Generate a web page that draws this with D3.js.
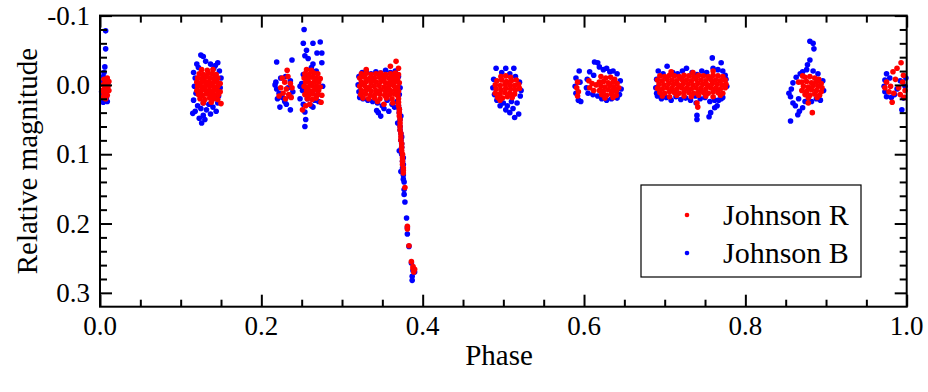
<!DOCTYPE html>
<html>
<head>
<meta charset="utf-8">
<script src="https://cdn.jsdelivr.net/npm/d3@7"></script>
</head>
<body style="margin:0">
<svg width="928" height="392"></svg>
<script>
// tick labels
var xMajor = [0.0, 0.2, 0.4, 0.6, 0.8, 1.0];
var xMinor = [0.05, 0.1, 0.15, 0.25, 0.3, 0.35, 0.45, 0.5, 0.55, 0.65, 0.7, 0.75, 0.85, 0.9, 0.95];
var yMajor = [-0.1, 0.0, 0.1, 0.2, 0.3];
var yMinor = [-0.08, -0.06, -0.04, -0.02, 0.02, 0.04, 0.06, 0.08, 0.12, 0.14, 0.16, 0.18,
              0.22, 0.24, 0.26, 0.28];

var seriesNames = ["Johnson R", "Johnson B"];

// Johnson B : [phase, relative magnitude]
var johnsonB = [
  // ~0.00
  [0.007,-0.078],[0.007,-0.052],[0.006,-0.026],[0.005,-0.018],[0.004,-0.012],[0.008,-0.008],[0.003,-0.004],
  [0.006,0.000],[0.009,0.004],[0.004,0.008],[0.007,0.012],[0.003,0.016],[0.008,0.018],[0.005,0.021],
  [0.009,0.024],[0.004,0.025],[0.010,-0.003],[0.002,0.010],
  // ~0.13
  [0.125,-0.043],[0.128,-0.041],[0.146,-0.032],[0.143,-0.028],[0.120,-0.030],[0.131,-0.034],[0.116,-0.018],
  [0.118,-0.010],[0.117,0.002],[0.119,0.012],[0.116,0.022],[0.148,-0.020],[0.150,-0.010],[0.149,0.004],
  [0.147,0.016],[0.146,0.026],[0.122,-0.025],[0.137,-0.030],[0.141,-0.024],[0.121,0.030],[0.125,0.034],
  [0.118,0.038],[0.132,0.036],[0.140,0.032],[0.144,0.038],[0.128,0.044],[0.123,0.048],[0.126,0.055],
  [0.130,0.050],[0.115,0.041],[0.137,0.042],[0.135,0.028],[0.128,0.026],
  // ~0.23
  [0.219,-0.033],[0.238,-0.036],[0.224,-0.010],[0.218,-0.004],[0.230,-0.012],[0.236,-0.006],[0.219,0.006],
  [0.222,0.012],[0.233,0.004],[0.239,0.010],[0.226,0.018],[0.220,0.020],[0.235,0.016],[0.229,0.024],
  [0.223,0.032],[0.236,0.036],[0.231,0.028],[0.217,0.000],
  // ~0.26
  [0.253,-0.080],[0.252,-0.060],[0.256,-0.050],[0.264,-0.060],[0.269,-0.046],[0.273,-0.062],[0.275,-0.046],
  [0.275,-0.032],[0.258,-0.038],[0.254,-0.042],[0.262,-0.025],[0.268,-0.020],[0.252,-0.015],[0.256,-0.010],
  [0.270,-0.008],[0.264,-0.030],[0.250,-0.002],[0.276,0.002],[0.251,0.008],[0.260,0.012],[0.270,0.014],
  [0.257,0.020],[0.266,0.022],[0.252,0.028],[0.262,0.030],[0.271,0.024],[0.254,0.039],[0.255,0.050],
  [0.254,0.060],[0.264,0.032],[0.248,0.020],[0.248,0.002],
  // ~0.35 flat part
  [0.325,-0.018],[0.330,-0.020],[0.336,-0.016],[0.342,-0.019],[0.348,-0.017],[0.354,-0.021],[0.360,-0.018],
  [0.366,-0.020],[0.370,-0.012],[0.321,-0.012],[0.320,0.000],[0.321,0.010],[0.322,0.018],[0.372,0.004],
  [0.371,0.014],[0.326,0.020],[0.332,0.022],[0.338,0.024],[0.344,0.026],[0.350,0.030],[0.356,0.022],
  [0.362,0.028],[0.368,0.024],[0.345,0.040],[0.348,0.045],[0.343,0.037],[0.352,0.034],[0.358,0.038],
  [0.365,0.032],
  // descent
  [0.370,0.030],[0.371,0.040],[0.372,0.050],[0.372,0.060],[0.373,0.070],[0.373,0.080],[0.374,0.090],
  [0.374,0.100],[0.375,0.110],[0.375,0.120],[0.376,0.130],[0.376,0.136],[0.371,0.035],[0.372,0.065],
  [0.374,0.085],[0.376,0.115],[0.377,0.151],[0.377,0.158],[0.378,0.169],[0.380,0.192],[0.381,0.206],
  [0.381,0.215],[0.383,0.233],[0.386,0.257],[0.388,0.268],[0.390,0.270],[0.387,0.282],[0.387,0.276],
  [0.373,0.045],[0.369,0.055],[0.374,0.075],[0.371,0.095],[0.376,0.105],[0.373,0.125],[0.377,0.140],
  // ~0.50
  [0.491,-0.024],[0.503,-0.024],[0.498,-0.018],[0.508,-0.016],[0.515,-0.012],[0.488,-0.008],[0.520,-0.004],
  [0.487,0.004],[0.522,0.008],[0.489,0.014],[0.521,0.016],[0.492,0.022],[0.500,0.026],[0.510,0.024],
  [0.517,0.026],[0.505,0.030],[0.512,0.034],[0.508,0.040],[0.514,0.047],[0.519,0.042],[0.496,0.030],
  [0.503,0.036],[0.513,-0.024],
  // ~0.62
  [0.594,-0.020],[0.590,-0.010],[0.589,0.002],[0.590,0.012],[0.593,0.022],[0.596,0.024],[0.595,-0.004],
  [0.613,-0.033],[0.617,-0.032],[0.607,-0.019],[0.624,-0.022],[0.632,-0.019],[0.641,-0.016],[0.619,-0.026],
  [0.628,-0.024],[0.636,-0.020],[0.604,-0.008],[0.603,0.004],[0.605,0.012],[0.612,-0.014],[0.645,-0.006],
  [0.646,0.006],[0.644,0.014],[0.628,0.022],[0.641,0.019],[0.617,0.016],[0.622,0.020],[0.634,0.020],
  [0.611,0.014],
  // ~0.73
  [0.692,-0.020],[0.698,-0.016],[0.703,-0.027],[0.710,-0.018],[0.716,-0.016],[0.722,-0.020],[0.727,-0.024],
  [0.734,-0.018],[0.740,-0.015],[0.746,-0.020],[0.752,-0.018],[0.759,-0.039],[0.760,-0.024],[0.766,-0.022],
  [0.770,-0.032],[0.772,-0.020],[0.775,-0.014],[0.690,-0.008],[0.689,0.004],[0.690,0.012],
  [0.691,0.016],[0.696,0.020],[0.702,0.018],[0.708,0.022],[0.714,0.017],[0.720,0.021],[0.726,0.019],
  [0.732,0.022],[0.738,0.016],[0.744,0.020],[0.750,0.018],[0.756,0.024],[0.762,0.022],[0.770,0.020],
  [0.740,0.050],[0.740,0.044],[0.739,0.026],[0.755,0.046],[0.757,0.040],[0.762,0.033],[0.765,0.030],
  [0.767,0.022],[0.772,0.018],[0.777,0.002],[0.776,-0.008],
  // ~0.88
  [0.880,-0.063],[0.884,-0.060],[0.885,-0.052],[0.880,-0.036],[0.877,-0.029],[0.871,-0.019],[0.863,-0.011],
  [0.859,-0.003],[0.857,0.006],[0.856,0.017],[0.859,0.026],[0.865,0.043],[0.867,0.038],[0.856,0.052],
  [0.871,0.033],[0.893,0.022],[0.888,0.020],[0.896,-0.006],[0.897,0.008],[0.884,-0.020],[0.890,-0.016],
  [0.866,0.020],[0.862,0.030],[0.874,0.024],[0.882,0.024],[0.868,-0.016],[0.876,-0.022],[0.854,0.012],
  // ~0.99
  [0.975,-0.016],[0.973,-0.007],[0.972,0.002],[0.973,0.010],[0.975,0.017],[0.981,0.018],[0.985,0.014],
  [0.994,0.036],[0.996,0.019],[0.992,-0.006],[0.998,0.002],[0.999,-0.010],[0.988,0.006],[0.979,-0.010]
];

// Johnson R : [phase, relative magnitude]
var johnsonR = [
  // ~0.00
  [0.005,-0.008],[0.009,-0.010],[0.007,-0.004],[0.004,0.000],[0.010,0.002],[0.006,0.005],[0.003,0.008],
  [0.008,0.010],[0.005,0.013],[0.009,0.015],[0.004,0.018],[0.007,0.020],[0.011,-0.005],[0.011,0.008],
  // ~0.13
  [0.126,-0.022],[0.133,-0.021],[0.140,-0.022],
  [0.123,-0.016],[0.128,-0.015],[0.134,-0.017],[0.139,-0.016],[0.144,-0.015],
  [0.121,-0.010],[0.126,-0.009],[0.131,-0.011],[0.136,-0.010],[0.141,-0.009],[0.146,-0.010],
  [0.120,-0.004],[0.125,-0.003],[0.130,-0.005],[0.135,-0.004],[0.140,-0.003],[0.145,-0.004],[0.149,-0.002],
  [0.121,0.002],[0.126,0.003],[0.131,0.001],[0.136,0.002],[0.141,0.003],[0.146,0.002],
  [0.120,0.008],[0.125,0.009],[0.130,0.007],[0.135,0.008],[0.140,0.009],[0.145,0.008],[0.149,0.010],
  [0.122,0.014],[0.127,0.015],[0.132,0.013],[0.137,0.014],[0.142,0.015],[0.147,0.014],
  [0.124,0.020],[0.130,0.021],[0.136,0.019],[0.141,0.020],[0.146,0.021],
  [0.128,0.026],[0.138,0.025],[0.150,0.027],
  // ~0.23
  [0.226,-0.010],[0.233,-0.012],[0.229,-0.004],[0.236,-0.002],[0.224,0.004],[0.231,0.006],[0.238,0.004],
  [0.227,0.012],[0.234,0.014],[0.222,0.016],[0.230,0.020],[0.237,0.018],[0.232,-0.021],
  // ~0.26
  [0.256,-0.022],[0.262,-0.021],
  [0.254,-0.016],[0.259,-0.015],[0.265,-0.017],[0.270,-0.016],
  [0.253,-0.010],[0.258,-0.009],[0.263,-0.011],[0.268,-0.010],[0.273,-0.009],
  [0.255,-0.004],[0.260,-0.003],[0.266,-0.005],[0.271,-0.004],
  [0.253,0.002],[0.258,0.003],[0.263,0.001],[0.268,0.002],[0.273,0.003],
  [0.256,0.008],[0.261,0.009],[0.266,0.007],[0.271,0.008],
  [0.254,0.014],[0.259,0.015],[0.264,0.013],[0.270,0.014],[0.275,0.015],
  [0.257,0.020],[0.263,0.021],[0.268,0.019],
  [0.274,0.025],[0.255,0.030],[0.260,0.028],[0.251,0.036],
  // ~0.35 flat part
  [0.324,-0.016],[0.330,-0.017],[0.336,-0.015],[0.342,-0.016],[0.348,-0.017],[0.354,-0.015],[0.360,-0.016],[0.366,-0.017],[0.370,-0.015],
  [0.322,-0.010],[0.328,-0.011],[0.334,-0.009],[0.340,-0.010],[0.346,-0.011],[0.352,-0.009],[0.358,-0.010],[0.364,-0.011],[0.369,-0.009],
  [0.324,-0.004],[0.330,-0.005],[0.336,-0.003],[0.342,-0.004],[0.348,-0.005],[0.354,-0.003],[0.360,-0.004],[0.366,-0.005],[0.371,-0.003],
  [0.322,0.002],[0.328,0.001],[0.334,0.003],[0.340,0.002],[0.346,0.001],[0.352,0.003],[0.358,0.002],[0.364,0.001],[0.369,0.003],
  [0.324,0.008],[0.330,0.007],[0.336,0.009],[0.342,0.008],[0.348,0.007],[0.354,0.009],[0.360,0.008],[0.366,0.007],[0.370,0.009],
  [0.323,0.014],[0.329,0.013],[0.335,0.015],[0.341,0.014],[0.347,0.013],[0.353,0.015],[0.359,0.014],[0.365,0.013],[0.369,0.015],
  [0.326,0.019],[0.333,0.020],[0.340,0.019],[0.347,0.020],[0.355,0.019],[0.362,0.020],
  [0.327,-0.013],[0.339,-0.007],[0.351,-0.012],[0.363,-0.007],[0.333,0.005],[0.345,0.011],[0.357,0.005],
  [0.367,-0.034],[0.360,-0.027],[0.330,-0.022],[0.344,0.024],[0.352,0.028],[0.363,0.026],[0.370,-0.024],
  // descent
  [0.369,0.010],[0.370,0.020],[0.370,0.030],[0.371,0.040],[0.372,0.050],[0.372,0.060],[0.373,0.070],
  [0.373,0.080],[0.374,0.090],[0.375,0.100],[0.375,0.110],[0.376,0.120],[0.376,0.127],[0.378,0.148],
  [0.369,0.015],[0.370,0.025],[0.371,0.035],[0.371,0.045],[0.372,0.055],[0.372,0.065],[0.373,0.075],
  [0.374,0.085],[0.374,0.095],[0.375,0.105],[0.375,0.115],[0.376,0.123],
  [0.381,0.204],[0.381,0.208],[0.383,0.232],[0.386,0.255],[0.388,0.265],[0.390,0.266],[0.389,0.270],
  [0.388,0.262],
  // ~0.50
  [0.497,-0.012],[0.503,-0.013],[0.509,-0.011],
  [0.492,-0.006],[0.498,-0.007],[0.504,-0.005],[0.510,-0.006],[0.516,-0.007],
  [0.490,0.000],[0.496,0.001],[0.502,-0.001],[0.508,0.000],[0.514,0.001],[0.519,-0.001],
  [0.491,0.006],[0.497,0.007],[0.503,0.005],[0.509,0.006],[0.515,0.007],[0.520,0.005],
  [0.490,0.012],[0.496,0.013],[0.502,0.011],[0.508,0.012],[0.514,0.013],
  [0.493,0.018],[0.499,0.019],[0.505,0.017],[0.511,0.018],[0.496,0.022],
  // ~0.62
  [0.592,-0.004],[0.591,0.004],[0.593,0.010],[0.592,0.016],
  [0.606,-0.006],[0.610,-0.002],[0.607,0.004],[0.612,0.008],[0.615,0.000],
  [0.621,-0.012],[0.627,-0.010],[0.633,-0.011],[0.638,-0.008],
  [0.619,-0.004],[0.624,-0.005],[0.630,-0.003],[0.636,-0.004],[0.641,-0.002],
  [0.621,0.002],[0.626,0.003],[0.632,0.001],[0.637,0.003],[0.643,0.004],
  [0.619,0.008],[0.624,0.009],[0.630,0.007],[0.635,0.008],[0.640,0.009],
  [0.622,0.014],[0.628,0.015],[0.634,0.013],[0.640,0.015],
  [0.626,0.019],[0.636,0.018],
  // ~0.73
  [0.694,-0.013],[0.700,-0.012],[0.706,-0.014],[0.712,-0.013],[0.718,-0.012],[0.724,-0.014],[0.730,-0.013],
  [0.736,-0.012],[0.742,-0.014],[0.748,-0.013],[0.754,-0.012],[0.760,-0.014],[0.766,-0.013],[0.772,-0.012],
  [0.691,-0.007],[0.697,-0.006],[0.703,-0.008],[0.709,-0.007],[0.715,-0.006],[0.721,-0.008],[0.727,-0.007],
  [0.733,-0.006],[0.739,-0.008],[0.745,-0.007],[0.751,-0.006],[0.757,-0.008],[0.763,-0.007],[0.769,-0.006],[0.775,-0.007],
  [0.693,-0.001],[0.699,0.000],[0.705,-0.002],[0.711,-0.001],[0.717,0.000],[0.723,-0.002],[0.729,-0.001],
  [0.735,0.000],[0.741,-0.002],[0.747,-0.001],[0.753,0.000],[0.759,-0.002],[0.765,-0.001],[0.771,0.000],[0.776,-0.001],
  [0.691,0.005],[0.697,0.006],[0.703,0.004],[0.709,0.005],[0.715,0.006],[0.721,0.004],[0.727,0.005],
  [0.733,0.006],[0.739,0.004],[0.745,0.005],[0.751,0.006],[0.757,0.004],[0.763,0.005],[0.769,0.006],[0.775,0.004],
  [0.694,0.011],[0.700,0.012],[0.706,0.010],[0.712,0.011],[0.718,0.012],[0.724,0.010],[0.730,0.011],
  [0.736,0.012],[0.742,0.010],[0.748,0.011],[0.754,0.012],[0.760,0.010],[0.766,0.011],[0.772,0.012],
  [0.697,0.016],[0.706,0.017],[0.715,0.015],[0.724,0.016],[0.733,0.017],[0.742,0.015],[0.751,0.016],
  [0.760,0.017],[0.769,0.015],
  [0.740,0.026],[0.741,0.032],[0.708,-0.019],[0.735,-0.018],[0.760,-0.020],
  // ~0.88
  [0.874,-0.011],[0.880,-0.012],[0.886,-0.010],[0.891,-0.008],
  [0.870,-0.004],[0.876,-0.005],[0.882,-0.003],[0.888,-0.004],[0.894,-0.002],
  [0.872,0.002],[0.878,0.003],[0.884,0.001],[0.890,0.002],[0.895,0.004],
  [0.870,0.008],[0.876,0.009],[0.882,0.007],[0.888,0.008],[0.894,0.010],
  [0.874,0.014],[0.880,0.015],[0.886,0.013],[0.892,0.015],
  [0.878,0.019],[0.889,0.018],
  [0.883,0.040],[0.871,-0.013],[0.866,-0.004],[0.878,0.026],
  // ~0.99
  [0.993,-0.032],[0.983,-0.019],[0.988,-0.024],[0.975,-0.004],[0.980,0.002],[0.986,-0.008],[0.990,0.004],
  [0.995,-0.004],[0.998,0.008],[0.978,0.010],[0.984,0.012],[0.992,0.014],[0.997,0.018],[0.982,0.025],
  [0.996,-0.014],[0.973,0.004]
];

var serif = "'Liberation Serif'";

var svg = d3.select("svg");

var x = d3.scaleLinear().domain([0, 1]).range([100, 906.7]);
var y = d3.scaleLinear().domain([-0.1, 0.32]).range([15.6, 306.7]);

var fmt = function(d) { return d.toFixed(1); };

// points, blue under red
svg.append("g").selectAll("circle")
    .data(johnsonB)
    .join("circle")
    .attr("cx", function(d) { return x(d[0]); })
    .attr("cy", function(d) { return y(d[1]); })
    .attr("r", 2.8)
    .attr("fill", "#0000ff");

svg.append("g").selectAll("circle")
    .data(johnsonR)
    .join("circle")
    .attr("cx", function(d) { return x(d[0]); })
    .attr("cy", function(d) { return y(d[1]); })
    .attr("r", 2.8)
    .attr("fill", "#ff0000");

var yb = y.range()[1], yt = y.range()[0];
var xl = x.range()[0], xr = x.range()[1];

// axes, ticks pointing inward on all sides (labels drawn separately below)
function styleAxis(g) {
    g.select(".domain").remove();
    g.selectAll(".tick text").remove();
    g.selectAll(".tick line").attr("stroke", "#000").attr("stroke-width", 2);
}

svg.append("g").attr("transform", "translate(0," + yb + ")")
    .call(d3.axisBottom(x).tickValues(xMajor).tickSize(-12))
    .call(styleAxis);
svg.append("g").attr("transform", "translate(0," + yb + ")")
    .call(d3.axisBottom(x).tickValues(xMinor).tickSize(-7))
    .call(styleAxis);
svg.append("g").attr("transform", "translate(0," + yt + ")")
    .call(d3.axisTop(x).tickValues(xMajor).tickSize(-12))
    .call(styleAxis);
svg.append("g").attr("transform", "translate(0," + yt + ")")
    .call(d3.axisTop(x).tickValues(xMinor).tickSize(-7))
    .call(styleAxis);
svg.append("g").attr("transform", "translate(" + xl + ",0)")
    .call(d3.axisLeft(y).tickValues(yMajor).tickSize(-12))
    .call(styleAxis);
svg.append("g").attr("transform", "translate(" + xl + ",0)")
    .call(d3.axisLeft(y).tickValues(yMinor).tickSize(-7))
    .call(styleAxis);
svg.append("g").attr("transform", "translate(" + xr + ",0)")
    .call(d3.axisRight(y).tickValues(yMajor).tickSize(-12))
    .call(styleAxis);
svg.append("g").attr("transform", "translate(" + xr + ",0)")
    .call(d3.axisRight(y).tickValues(yMinor).tickSize(-7))
    .call(styleAxis);

// tick labels
svg.append("g").selectAll("text")
    .data(xMajor)
    .join("text")
    .attr("x", function(d) { return x(d); })
    .attr("y", yb + 28)
    .attr("text-anchor", "middle")
    .attr("font-size", 27)
    .style("font-family", serif)
    .text(fmt);

svg.append("g").selectAll("text")
    .data(yMajor)
    .join("text")
    .attr("x", xl - 10)
    .attr("y", function(d) { return y(d) + 9; })
    .attr("text-anchor", "end")
    .attr("font-size", 27)
    .style("font-family", serif)
    .text(fmt);

// frame
svg.append("rect")
    .attr("x", xl).attr("y", yt)
    .attr("width", xr - xl).attr("height", yb - yt)
    .attr("fill", "none")
    .attr("stroke", "#000")
    .attr("stroke-width", 2);

// axis titles
svg.append("text")
    .attr("x", 499).attr("y", 365)
    .attr("text-anchor", "middle")
    .attr("font-size", 29)
    .style("font-family", serif)
    .text("Phase");

svg.append("text")
    .attr("transform", "translate(37," + (yt + yb) / 2 + ") rotate(-90)")
    .attr("text-anchor", "middle")
    .attr("font-size", 29)
    .style("font-family", serif)
    .text("Relative magnitude");

// legend
var lg = svg.append("g").attr("transform", "translate(641,185)");
lg.append("rect")
    .attr("width", 220).attr("height", 92)
    .attr("fill", "#fff")
    .attr("stroke", "#000")
    .attr("stroke-width", 1.2);
var legColors = ["#ff0000", "#0000ff"];
var items = lg.selectAll(".item")
    .data(seriesNames)
    .join("g")
    .attr("class", "item")
    .attr("transform", function(d, i) { return "translate(0," + (30 + i * 38) + ")"; });
items.append("circle")
    .attr("cx", 46).attr("cy", 0).attr("r", 2.3)
    .attr("fill", function(d, i) { return legColors[i]; });
items.append("text")
    .attr("x", 82).attr("y", 10)
    .attr("font-size", 30)
    .style("font-family", serif)
    .text(function(d) { return d; });
</script>
</body>
</html>
